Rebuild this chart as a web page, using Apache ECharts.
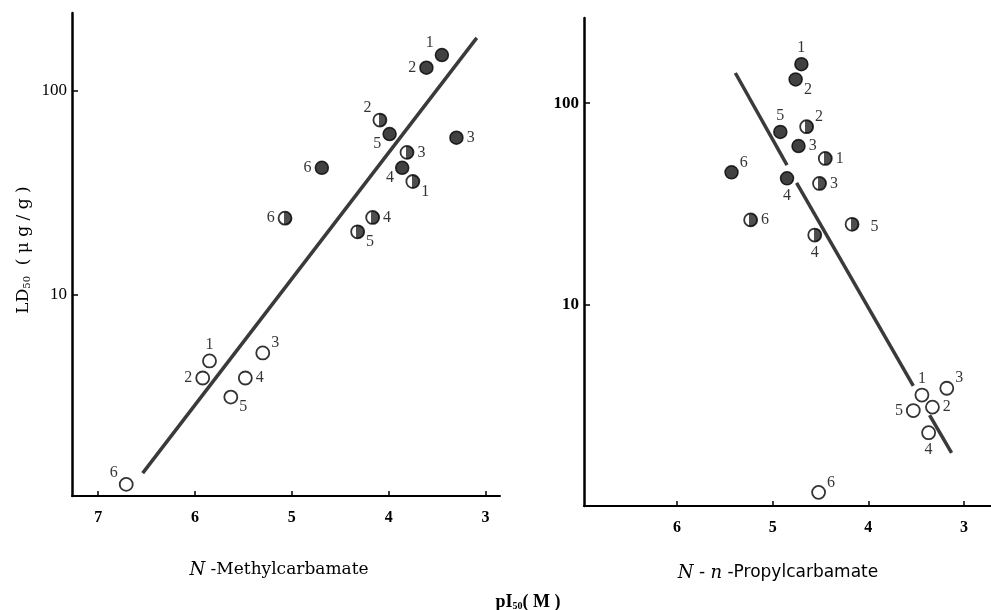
<!DOCTYPE html>
<html><head><meta charset="utf-8">
<script src="https://cdn.jsdelivr.net/npm/echarts@6/dist/echarts.min.js"></script>
<style>html,body{margin:0;padding:0;background:#fff}#c{width:991px;height:610px}</style>
</head><body><div id="c"></div>
<script>
// ---------- data ----------
const compoundIds = ['1', '2', '3', '4', '5', '6'];

// Left panel: N-Methylcarbamate  (x = pI50, y = LD50 ug/g)
const methylFilledX = [3.45, 3.61, 3.30, 3.86, 3.99, 4.69];
const methylFilledY = [150, 130, 59, 42, 61.5, 42];
const methylHalfX = [3.75, 4.09, 3.81, 4.165, 4.32, 5.07];
const methylHalfY = [36, 72, 50, 24, 20.4, 23.8];
const methylOpenX = [5.85, 5.92, 5.30, 5.48, 5.63, 6.71];
const methylOpenY = [4.75, 3.92, 5.2, 3.92, 3.16, 1.18];
const methylLineX = [6.54, 3.09];
const methylLineY = [1.34, 182];

// Right panel: N-n-Propylcarbamate
const propylFilledX = [4.70, 4.76, 4.73, 4.85, 4.92, 5.43];
const propylFilledY = [156, 131, 61.3, 42.4, 72, 45.4];
const propylHalfX = [4.45, 4.645, 4.51, 4.56, 4.17, 5.23];
const propylHalfY = [53.2, 76.4, 40, 22.2, 25.1, 26.4];
const propylOpenX = [3.44, 3.33, 3.18, 3.37, 3.53, 4.52];
const propylOpenY = [3.58, 3.12, 3.87, 2.33, 3.0, 1.18];
const propylLineAX = [5.39, 4.85];
const propylLineAY = [141, 49.3];
const propylLineBX = [4.75, 3.53];
const propylLineBY = [40.3, 3.97];
const propylLineCX = [3.36, 3.13];
const propylLineCY = [2.85, 1.85];

// tick labels
const leftXTicks = [7, 6, 5, 4, 3];
const rightXTicks = [6, 5, 4, 3];
const yTicks = [10, 100];

// ---------- label placement (style) ----------
const methylFilledLab = ['tl', 'l', 'r', 'bl', 'bl', 'l'];
const methylHalfLab = ['br', 'tl', 'r', 'r', 'br', 'l'];
const methylOpenLab = ['t', 'l', 'tr', 'r', 'br', 'tl'];
const propylFilledLab = ['t', 'br', 'r', 'b', 't', 'tr'];
const propylHalfLab = ['r', 'tr', 'r', 'b', 'rr', 'r'];
const propylOpenLab = ['t', 'r', 'tr', 'b', 'l', 'tr'];

const SERIF = '"Liberation Serif","DejaVu Serif",serif';
const offs = {
  t: ['top', [0, 2]], b: ['bottom', [0, -1]], l: ['left', [0, 0]], r: ['right', [0, 0]],
  rr: ['right', [8, 2]],
  tl: ['left', [2, -12]], tr: ['right', [-2, -10]], bl: ['left', [2, 10]], br: ['right', [-2, 10]]
};
function pts(xs, ys, labs) {
  return xs.map((x, i) => {
    const o = offs[labs[i]];
    return { value: [x, ys[i]], name: compoundIds[i], label: { position: o[0], offset: o[1] } };
  });
}
function line(xs, ys) { return xs.map((x, i) => [x, ys[i]]); }

const halfFill = new echarts.graphic.LinearGradient(0, 0, 1, 0, [
  { offset: 0, color: '#fff' }, { offset: 0.42, color: '#fff' },
  { offset: 0.42, color: '#222' }, { offset: 1, color: '#222' }]);

const labelCommon = { show: true, formatter: p => p.name, color: '#000', fontFamily: SERIF, fontSize: 16, distance: 3 };
function scatter(data, gi, kind) {
  const st = kind === 'filled' ? { color: '#111', borderColor: '#000', borderWidth: 1.5 }
    : kind === 'half' ? { color: halfFill, borderColor: '#000', borderWidth: 1.8 }
    : { color: '#fff', borderColor: '#000', borderWidth: 1.8 };
  return { type: 'scatter', xAxisIndex: gi, yAxisIndex: gi, symbol: 'circle', symbolSize: 13,
    itemStyle: st, label: labelCommon, data, z: 3, silent: true };
}
function lineSeries(data, gi) {
  return { type: 'line', xAxisIndex: gi, yAxisIndex: gi, data, symbol: 'none',
    lineStyle: { color: '#3a3a3a', width: 3.5 }, z: 2, silent: true };
}

function xAxis(gi, min, max, ticks) {
  return { type: 'value', gridIndex: gi, inverse: true, min, max,
    axisLine: { lineStyle: { color: '#000', width: 2 } },
    axisTick: { inside: true, length: 5, lineStyle: { color: '#000', width: 1.5 }, customValues: ticks },
    axisLabel: { customValues: ticks, margin: 14, color: '#000', fontFamily: SERIF, fontSize: 16, fontWeight: 'bold' },
    splitLine: { show: false } };
}
function yAxis(gi, min, max, bold, margin) {
  return { type: 'log', logBase: 10, gridIndex: gi, min, max,
    axisLine: { lineStyle: { color: '#000', width: 2.5 } },
    axisTick: { inside: true, length: 6, lineStyle: { color: '#000', width: 1.5 }, customValues: yTicks },
    axisLabel: { customValues: yTicks, margin, color: '#000', fontFamily: SERIF, fontSize: 17,
      fontWeight: bold ? 'bold' : 'normal' },
    splitLine: { show: false }, minorTick: { show: false } };
}

const DSERIF = '"DejaVu Serif","Liberation Serif",serif';
const DSANS = '"DejaVu Sans","Liberation Sans",sans-serif';
const chart = echarts.init(document.getElementById('c'), null, { renderer: 'canvas' });
chart.setOption({
  backgroundColor: '#fff',
  animation: false,
  grid: [
    { left: 72, top: 13, width: 428, height: 483 },
    { left: 584, top: 18, width: 407, height: 488 }
  ],
  xAxis: [xAxis(0, 2.85, 7.27, leftXTicks), xAxis(1, 2.718, 6.972, rightXTicks)],
  yAxis: [yAxis(0, 1.035, 241, false, 5), yAxis(1, 1.01, 264, true, 5)],
  series: [
    lineSeries(line(methylLineX, methylLineY), 0),
    scatter(pts(methylFilledX, methylFilledY, methylFilledLab), 0, 'filled'),
    scatter(pts(methylHalfX, methylHalfY, methylHalfLab), 0, 'half'),
    scatter(pts(methylOpenX, methylOpenY, methylOpenLab), 0, 'open'),
    lineSeries(line(propylLineAX, propylLineAY), 1),
    lineSeries(line(propylLineBX, propylLineBY), 1),
    lineSeries(line(propylLineCX, propylLineCY), 1),
    scatter(pts(propylFilledX, propylFilledY, propylFilledLab), 1, 'filled'),
    scatter(pts(propylHalfX, propylHalfY, propylHalfLab), 1, 'half'),
    scatter(pts(propylOpenX, propylOpenY, propylOpenLab), 1, 'open')
  ],
  graphic: [
    { type: 'text', x: 24, y: 250, rotation: Math.PI / 2,
      style: { text: 'LD{s|50}  ( μ g / g )', fill: '#000', font: '17px ' + DSERIF, align: 'center', verticalAlign: 'middle',
        rich: { s: { fontSize: 10, fontFamily: DSERIF, padding: [7, 0, 0, 0] } } } },
    { type: 'text', x: 279, y: 570,
      style: { text: '{i|N} -Methylcarbamate', fill: '#000', font: '17px ' + DSERIF, align: 'center', verticalAlign: 'middle',
        rich: { i: { fontStyle: 'italic', fontSize: 18, fontFamily: DSERIF } } } },
    { type: 'text', x: 778, y: 573,
      style: { text: '{i|N} - {i|n} -Propylcarbamate', fill: '#000', font: '17px ' + DSANS, align: 'center', verticalAlign: 'middle',
        rich: { i: { fontStyle: 'italic', fontSize: 18, fontFamily: DSERIF } } } },
    { type: 'text', x: 528, y: 602,
      style: { text: 'pI{s|50}( M )', fill: '#000', font: 'bold 18px ' + SERIF, align: 'center', verticalAlign: 'middle',
        rich: { s: { fontSize: 10, fontWeight: 'bold', fontFamily: SERIF, padding: [8, 0, 0, 0] } } } }
  ]
});
</script>
</body></html>
